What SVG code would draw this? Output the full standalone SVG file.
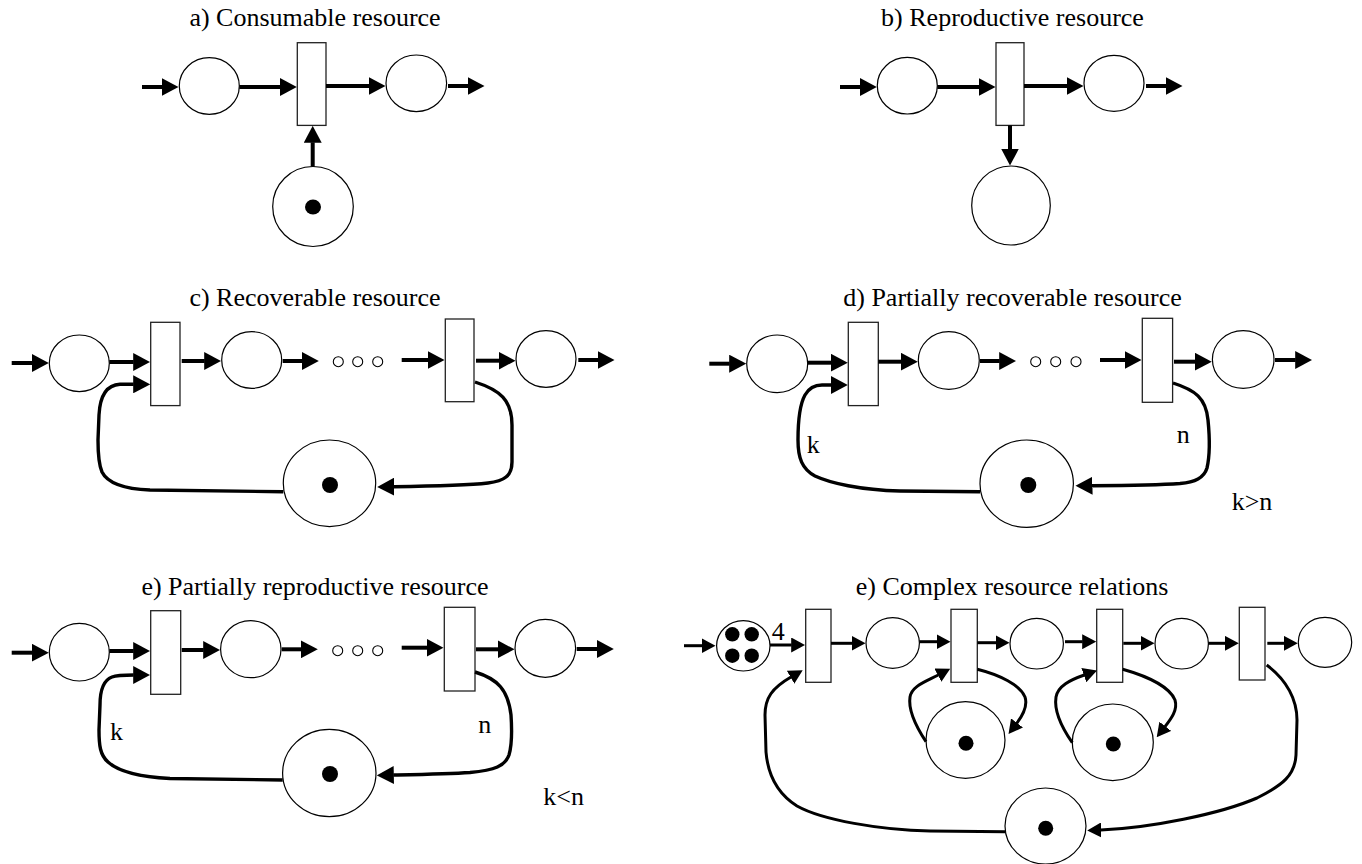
<svg xmlns="http://www.w3.org/2000/svg" width="1362" height="864" viewBox="0 0 1362 864">
  <style>
    text { font-family: "Liberation Serif", "DejaVu Serif", "Times New Roman", serif; font-size: 26px; fill: #000; }
    .title { text-anchor: middle; }
    .place { fill: #fff; stroke: #000; stroke-width: 1.2; }
    .trans { fill: #fff; stroke: #222; stroke-width: 1.3; }
    .token { fill: #000; stroke: none; }
    .dot { fill: #fff; stroke: #000; stroke-width: 1.1; }
    .arc { fill: none; stroke: #000; stroke-width: 4; }
    .loop { fill: none; stroke: #000; stroke-width: 3.4; }
    .arcS { fill: none; stroke: #000; stroke-width: 3; }
    .big { marker-end: url(#ah); }
    .small { marker-end: url(#as); }
  </style>
  <defs>
    <marker id="ah" viewBox="0 0 17 18" refX="0.5" refY="9" markerWidth="17" markerHeight="18" markerUnits="userSpaceOnUse" orient="auto">
      <path d="M0,0 L17,9 L0,18 z" fill="#000"/>
    </marker>
    <marker id="as" viewBox="0 0 14 15" refX="0.5" refY="7.5" markerWidth="14" markerHeight="15" markerUnits="userSpaceOnUse" orient="auto">
      <path d="M0,0 L14,7.5 L0,15 z" fill="#000"/>
    </marker>
  </defs>
  <rect width="1362" height="864" fill="#fff"/>

  <g font-family="Liberation Serif, DejaVu Serif, serif">
  <!-- a) consumable resource -->
  <g id="panel-a">
    <text class="title" x="315" y="26">a) Consumable resource</text>
    <g id="a-p1"><ellipse class="place" cx="209.3" cy="86" rx="30" ry="28.3"/></g>
    <g id="a-t1"><rect class="trans" x="297.3" y="42.7" width="28.7" height="82.7"/></g>
    <g id="a-p2"><ellipse class="place" cx="416.3" cy="83.3" rx="30.3" ry="28.3"/></g>
    <g id="a-res"><ellipse class="place" cx="313" cy="206.5" rx="40.3" ry="40"/><ellipse class="token" cx="313" cy="207" rx="8" ry="7.5"/></g>
    <g id="a-arcs">
      <line class="arc big" x1="142" y1="87" x2="162" y2="87"/>
      <line class="arc big" x1="239.3" y1="87" x2="280.3" y2="87"/>
      <line class="arc big" x1="326" y1="86" x2="369" y2="86"/>
      <line class="arc big" x1="448" y1="86" x2="468" y2="86"/>
      <line class="arc big" x1="312.7" y1="166.5" x2="312.7" y2="142.3"/>
    </g>
  </g>

  <!-- b) reproductive resource -->
  <g id="panel-b">
    <text class="title" x="1012.5" y="26">b) Reproductive resource</text>
    <g id="b-p1"><ellipse class="place" cx="907.3" cy="85.7" rx="30" ry="28.3"/></g>
    <g id="b-t1"><rect class="trans" x="996" y="42.7" width="28" height="82.7"/></g>
    <g id="b-p2"><ellipse class="place" cx="1114" cy="83.3" rx="30" ry="28"/></g>
    <g id="b-res"><ellipse class="place" cx="1011" cy="205.5" rx="39.3" ry="39.5"/></g>
    <g id="b-arcs">
      <line class="arc big" x1="840" y1="87" x2="860.3" y2="87"/>
      <line class="arc big" x1="937.3" y1="87" x2="979" y2="87"/>
      <line class="arc big" x1="1024" y1="86" x2="1067" y2="86"/>
      <line class="arc big" x1="1146" y1="86" x2="1166" y2="86"/>
      <line class="arc big" x1="1010" y1="125.3" x2="1010" y2="149"/>
    </g>
  </g>

  <!-- c) recoverable resource -->
  <g id="panel-c">
    <text class="title" x="315" y="306">c) Recoverable resource</text>
    <g id="c-p1"><ellipse class="place" cx="79.3" cy="363.3" rx="30" ry="28.3"/></g>
    <g id="c-t1"><rect class="trans" x="150.7" y="322.3" width="29.3" height="83.3"/></g>
    <g id="c-p2"><ellipse class="place" cx="251.7" cy="360" rx="30" ry="28.3"/></g>
    <g id="c-dots"><circle class="dot" cx="338.3" cy="361.7" r="5"/><circle class="dot" cx="357.7" cy="361.7" r="5"/><circle class="dot" cx="377.7" cy="361.7" r="5"/></g>
    <g id="c-t2"><rect class="trans" x="445.3" y="319" width="28.7" height="82.7"/></g>
    <g id="c-p3"><ellipse class="place" cx="546" cy="359" rx="30" ry="28.3"/></g>
    <g id="c-res"><ellipse class="place" cx="329.5" cy="483.3" rx="46.2" ry="43.3"/><ellipse class="token" cx="330" cy="485" rx="8" ry="8"/></g>
    <g id="c-arcs">
      <line class="arc big" x1="11.7" y1="363" x2="32.3" y2="363"/>
      <line class="arc big" x1="109.3" y1="362" x2="133.7" y2="362"/>
      <line class="arc big" x1="181.7" y1="361" x2="204.7" y2="361"/>
      <line class="arc big" x1="282.7" y1="361" x2="302.3" y2="361"/>
      <line class="arc big" x1="401.7" y1="360" x2="428" y2="360"/>
      <line class="arc big" x1="476" y1="360.7" x2="499" y2="360.7"/>
      <line class="arc big" x1="578.3" y1="360" x2="598" y2="360"/>
      <path class="loop big" d="M283.3,491.7 L150,490 C125,489 108,484 102,472 C99,465 98,455 98,440 L99,415 C100,395 107,385 120,384.3 L133.7,384.3"/>
      <path class="loop big" d="M475,382 C500,390 512,400 512,425 L512,462 C512,476 504,481 488,483 C470,485 440,486 393.7,486.7"/>
    </g>
  </g>

  <!-- d) partially recoverable resource -->
  <g id="panel-d">
    <text class="title" x="1012.5" y="306">d) Partially recoverable resource</text>
    <g id="d-p1"><ellipse class="place" cx="777.2" cy="363.8" rx="30.5" ry="28.8"/></g>
    <g id="d-t1"><rect class="trans" x="848.3" y="322.3" width="30" height="83.3"/></g>
    <g id="d-p2"><ellipse class="place" cx="948.8" cy="360.5" rx="30.5" ry="28.8"/></g>
    <g id="d-dots"><circle class="dot" cx="1035.7" cy="361.7" r="5"/><circle class="dot" cx="1055.7" cy="361.7" r="5"/><circle class="dot" cx="1076" cy="361.7" r="5"/></g>
    <g id="d-t2"><rect class="trans" x="1142.3" y="318.3" width="30.3" height="84"/></g>
    <g id="d-p3"><ellipse class="place" cx="1243.2" cy="359.5" rx="30.8" ry="28.8"/></g>
    <g id="d-res"><ellipse class="place" cx="1026.7" cy="483.7" rx="46.7" ry="43.7"/><ellipse class="token" cx="1028.3" cy="485" rx="8" ry="8"/></g>
    <g id="d-arcs">
      <line class="arc big" x1="709.3" y1="363.7" x2="729.7" y2="363.7"/>
      <line class="arc big" x1="807.7" y1="362.7" x2="831.3" y2="362.7"/>
      <line class="arc big" x1="878.3" y1="361.7" x2="901.3" y2="361.7"/>
      <line class="arc big" x1="980" y1="361" x2="999.7" y2="361"/>
      <line class="arc big" x1="1100" y1="360" x2="1125" y2="360"/>
      <line class="arc big" x1="1174" y1="361.7" x2="1195.3" y2="361.7"/>
      <line class="arc big" x1="1275" y1="360" x2="1295.7" y2="360"/>
      <path class="loop big" d="M980,491.7 L900,491 C860,490 830,483 815,476 C802,469 798,458 798,440 C798,420 800,404 805,395 C809,388 814,385 822,385 L831.3,385"/>
      <path class="loop big" d="M1173,383 C1195,390 1206,398 1208,420 C1210,440 1210,455 1207,468 C1204,478 1195,482 1180,483.5 C1160,485 1130,485.5 1092,485.7"/>
    </g>
    <text x="806.7" y="452.7">k</text>
    <text x="1176.7" y="443.3">n</text>
    <text x="1231.7" y="510">k&gt;n</text>
  </g>

  <!-- e) partially reproductive resource -->
  <g id="panel-e">
    <text class="title" x="315" y="595">e) Partially reproductive resource</text>
    <g id="e-p1"><ellipse class="place" cx="79.3" cy="652.2" rx="30" ry="28.8"/></g>
    <g id="e-t1"><rect class="trans" x="150.7" y="610.7" width="30" height="83.6"/></g>
    <g id="e-p2"><ellipse class="place" cx="250.8" cy="649.2" rx="30.2" ry="28.5"/></g>
    <g id="e-dots"><circle class="dot" cx="337.7" cy="650.7" r="5"/><circle class="dot" cx="357.7" cy="650.7" r="5"/><circle class="dot" cx="377.7" cy="650.7" r="5"/></g>
    <g id="e-t2"><rect class="trans" x="444.3" y="607.3" width="30.7" height="83.7"/></g>
    <g id="e-p3"><ellipse class="place" cx="545.3" cy="648.3" rx="30.3" ry="29"/></g>
    <g id="e-res"><ellipse class="place" cx="329.3" cy="773" rx="46.7" ry="43.7"/><ellipse class="token" cx="330" cy="774" rx="8" ry="8"/></g>
    <g id="e-arcs">
      <line class="arc big" x1="11.7" y1="652.7" x2="32.3" y2="652.7"/>
      <line class="arc big" x1="109.3" y1="651" x2="133.7" y2="651"/>
      <line class="arc big" x1="181.7" y1="650" x2="203.7" y2="650"/>
      <line class="arc big" x1="281.7" y1="649.3" x2="301.3" y2="649.3"/>
      <line class="arc big" x1="401.7" y1="647.7" x2="427" y2="647.7"/>
      <line class="arc big" x1="476" y1="649.3" x2="498" y2="649.3"/>
      <line class="arc big" x1="576.7" y1="649" x2="597.3" y2="649"/>
      <path class="loop big" d="M282.7,780 L170,778.5 C140,777 118,771 108,762 C100,755 99,745 99,730 L100,705 C100,690 104,680 112,677 C117,675 122,675 133.7,675"/>
      <path class="loop big" d="M475,672 C498,679 508,690 511,715 C512,730 512,745 509,755 C505,766 495,770 470,772.5 C450,774 420,774.5 393.3,775"/>
    </g>
    <text x="110" y="740">k</text>
    <text x="478.3" y="733.3">n</text>
    <text x="543.3" y="805">k&lt;n</text>
  </g>

  <!-- complex resource relations -->
  <g id="panel-f">
    <text class="title" x="1012" y="595">e) Complex resource relations</text>
    <g id="f-p0">
      <ellipse class="place" cx="743.3" cy="645.8" rx="26.7" ry="25.2"/>
      <circle class="token" cx="732.3" cy="634.3" r="7.2"/><circle class="token" cx="751.7" cy="634.3" r="7.2"/>
      <circle class="token" cx="732.3" cy="655.7" r="7.2"/><circle class="token" cx="751.7" cy="655.7" r="7.2"/>
    </g>
    <g id="f-t1"><rect class="trans" x="805.7" y="609.3" width="25.3" height="73"/></g>
    <g id="f-p1"><ellipse class="place" cx="892.7" cy="643" rx="26.7" ry="25.3"/></g>
    <g id="f-t2"><rect class="trans" x="951" y="609.3" width="26.3" height="73"/></g>
    <g id="f-p2"><ellipse class="place" cx="1036.7" cy="643.7" rx="26.7" ry="25.3"/></g>
    <g id="f-t3"><rect class="trans" x="1096.7" y="609.3" width="26" height="73"/></g>
    <g id="f-p3"><ellipse class="place" cx="1181.7" cy="643.7" rx="26.7" ry="25.3"/></g>
    <g id="f-t4"><rect class="trans" x="1239.3" y="607.3" width="25.7" height="72.7"/></g>
    <g id="f-p4"><ellipse class="place" cx="1325" cy="642.3" rx="26.7" ry="25"/></g>
    <g id="f-r1"><ellipse class="place" cx="965.5" cy="740" rx="39.5" ry="38.3"/><circle class="token" cx="966" cy="743.3" r="7.5"/></g>
    <g id="f-r2"><ellipse class="place" cx="1112.8" cy="742.3" rx="40.5" ry="38.3"/><circle class="token" cx="1113.3" cy="744" r="7.5"/></g>
    <g id="f-r3"><ellipse class="place" cx="1045.5" cy="826" rx="40.5" ry="38"/><circle class="token" cx="1045.7" cy="828.3" r="7.5"/></g>
    <g id="f-arcs">
      <line class="arcS small" x1="684" y1="645.7" x2="702" y2="645.7"/>
      <line class="arcS small" x1="770" y1="645" x2="791.7" y2="645"/>
      <line class="arcS small" x1="831" y1="643.3" x2="852" y2="643.3"/>
      <line class="arcS small" x1="919.3" y1="641.7" x2="937" y2="641.7"/>
      <line class="arcS small" x1="977.3" y1="642.7" x2="996" y2="642.7"/>
      <line class="arcS small" x1="1065" y1="641.7" x2="1082.7" y2="641.7"/>
      <line class="arcS small" x1="1123.3" y1="643.3" x2="1141" y2="643.3"/>
      <line class="arcS small" x1="1208.3" y1="643.3" x2="1225.3" y2="643.3"/>
      <line class="arcS small" x1="1267.3" y1="643.3" x2="1284.3" y2="643.3"/>
      <path class="arcS small" d="M926,741.7 C915,725 908,710 910,697 C912,686 925,682 938.3,675"/>
      <path class="arcS small" d="M977.3,669.3 C1000,675 1020,685 1025,697 C1028,706 1023,715 1016.7,723.3"/>
      <path class="arcS small" d="M1072.3,742.7 C1060,725 1054,710 1056,697 C1058,686 1070,680 1084.3,675"/>
      <path class="arcS small" d="M1122.7,669.3 C1150,677 1170,688 1175,700 C1178,710 1171,719 1165,726.7"/>
      <path class="arcS small" d="M1005,831.7 L930,831 C880,830 822,820 797,806 C778,794 768,776 766,752 L765,715 C765,698 772,688 791,677"/>
      <path class="arcS small" d="M1266.7,665 C1287,680 1297,700 1297,720 L1296,755 C1295,775 1283,785 1257,798 C1220,814 1150,828 1100.7,830"/>
    </g>
    <text x="771.7" y="640">4</text>
  </g>
  </g>
</svg>
